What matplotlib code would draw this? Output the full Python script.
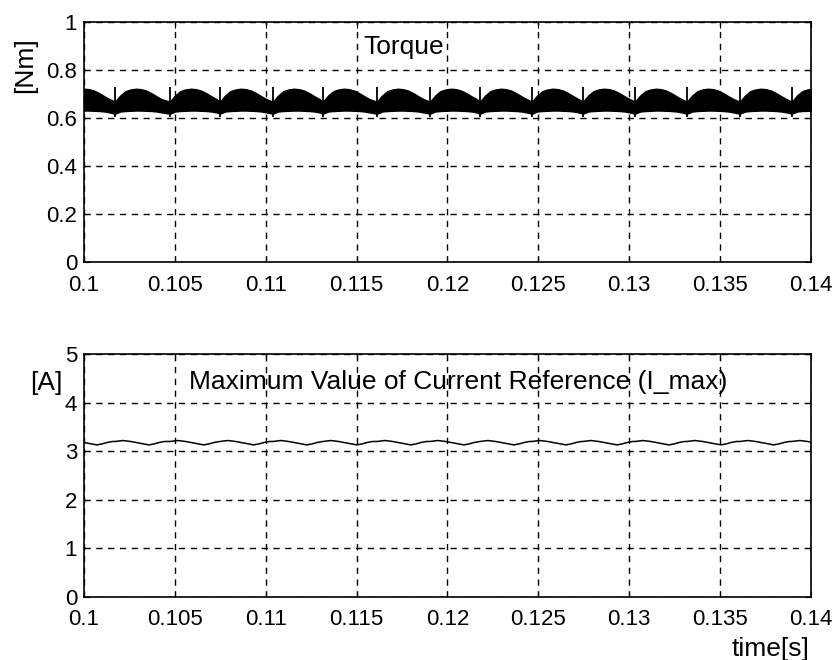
import numpy as np
import matplotlib.pyplot as plt

plt.rcParams['font.family'] = ['Liberation Sans', 'DejaVu Sans']

# torque ripple: times of the small spikes (one per period)
spike_t = [0.10171, 0.10473, 0.10748, 0.11040, 0.11315, 0.11612, 0.11904,
           0.12179, 0.12465, 0.12746, 0.13032, 0.13318, 0.13609, 0.13895]
# envelope of the torque band over one period (phase 0 = spike)
phase = [0.0, 0.1, 0.2, 0.3, 0.4, 0.5, 0.6, 0.7, 0.8, 0.9]
torque_hi = [0.668, 0.694, 0.712, 0.719, 0.722, 0.720, 0.714, 0.703, 0.690, 0.678]
torque_lo = [0.618, 0.627, 0.629, 0.630, 0.631, 0.631, 0.630, 0.629, 0.627, 0.623]
spike_lo, spike_hi = 0.603, 0.728

# I_max over one period, same phase reference
cur_phase = [0.0, 0.15, 0.3, 0.45, 0.55, 0.65, 0.75, 0.85, 0.95]
cur_val = [3.20, 3.22, 3.20, 3.17, 3.15, 3.13, 3.15, 3.18, 3.20]

xticks = [0.1, 0.105, 0.11, 0.115, 0.12, 0.125, 0.13, 0.135, 0.14]
xticklabels = ['0.1', '0.105', '0.11', '0.115', '0.12', '0.125', '0.13', '0.135', '0.14']

# place the read profile at each period
per = np.diff(spike_t).mean()
starts = [spike_t[0] - per] + spike_t + [spike_t[-1] + per]
t_band, hi, lo, t_cur, cur = [], [], [], [], []
for s in starts:
    for p, h, l in zip(phase, torque_hi, torque_lo):
        t_band.append(s + p * per); hi.append(h); lo.append(l)
    for p, c in zip(cur_phase, cur_val):
        t_cur.append(s + p * per); cur.append(c)

fig = plt.figure(figsize=(8.34, 6.6), dpi=100)
ax1 = fig.add_axes([0.1007, 0.603, 0.8717, 0.3637])
ax2 = fig.add_axes([0.1007, 0.0955, 0.8717, 0.3681])

ax1.fill_between(t_band, lo, hi, color='black', linewidth=1.0)
ax1.vlines(spike_t, spike_lo, spike_hi, color='black', linewidth=1.3)
ax1.set_ylim(0, 1)
ax1.set_yticks([0, 0.2, 0.4, 0.6, 0.8, 1])
ax1.set_yticklabels(['0', '0.2', '0.4', '0.6', '0.8', '1'])
ax1.text(0.1176, 0.895, 'Torque', ha='center', va='center', fontsize=19)
ax1.text(0.09675, 0.82, '[Nm]', ha='center', va='center', rotation=90, fontsize=19)

ax2.plot(t_cur, cur, color='black', linewidth=1.1)
ax2.set_ylim(0, 5)
ax2.set_yticks([0, 1, 2, 3, 4, 5])
ax2.text(0.1206, 4.42, 'Maximum Value of Current Reference (I_max)',
         ha='center', va='center', fontsize=19)
ax2.text(0.0979, 4.40, '[A]', ha='center', va='center', fontsize=19)
ax2.text(0.1378, -1.07, 'time[s]', ha='center', va='center', fontsize=19)

for ax in (ax1, ax2):
    ax.set_xlim(0.1, 0.14)
    ax.set_xticks(xticks)
    ax.set_xticklabels(xticklabels)
    ax.grid(True, color='black', linestyle=(0, (4.5, 4)), linewidth=1.0)
    ax.tick_params(direction='in', top=True, right=True, labelsize=16, length=4)
    ax.tick_params(axis='x', pad=9)
    ax.tick_params(axis='y', pad=5)
    for sp in ax.spines.values():
        sp.set_linewidth(1.2)

fig.savefig('out.png', dpi=100)
